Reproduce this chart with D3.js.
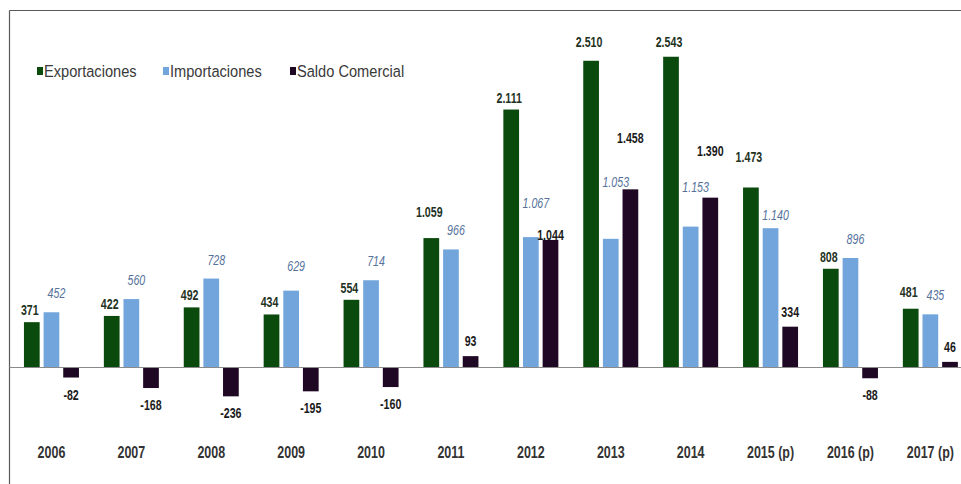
<!DOCTYPE html>
<html lang="es">
<head>
<meta charset="utf-8">
<script src="https://cdn.jsdelivr.net/npm/d3@7"></script>
<style>
  html, body { margin: 0; padding: 0; background: #fff; }
  svg { display: block; }
  text { font-family: "Liberation Sans", Arial, sans-serif; }
</style>
</head>
<body>
<svg id="chart" width="961" height="484"></svg>
<script>
// Balanza comercial, millones de US$
const years = ["2006", "2007", "2008", "2009", "2010", "2011", "2012", "2013", "2014", "2015 (p)", "2016 (p)", "2017 (p)"];
const exportaciones = [371, 422, 492, 434, 554, 1059, 2111, 2510, 2543, 1473, 808, 481];
const importaciones = [452, 560, 728, 629, 714, 966, 1067, 1053, 1153, 1140, 896, 435];
const saldoComercial = [-82, -168, -236, -195, -160, 93, 1044, 1458, 1390, 334, -88, 46];
const seriesNames = ["Exportaciones", "Importaciones", "Saldo Comercial"];

const colors = { "Exportaciones": "#0a4a0c", "Importaciones": "#72a5dc", "Saldo Comercial": "#1e0823" };
const labelColors = { "Exportaciones": "#1f331f", "Importaciones": "#55729c", "Saldo Comercial": "#1a1a1a" };

// extra lift (px) for value labels that sit higher than the default gap
const labelLift = {
  "Exportaciones": { "2011": 14, "2013": 7, "2014": 3, "2015 (p)": 18, "2017 (p)": 5 },
  "Importaciones": { "2009": 6, "2012": 15, "2013": 38, "2014": 21, "2015 (p)": -6 },
  "Saldo Comercial": { "2012": -10, "2013": 36, "2014": 32 }
};

const seriesValues = [exportaciones, importaciones, saldoComercial];
const rows = years.map((yr, i) => ({
  year: yr,
  values: seriesNames.map((s, k) => ({ series: s, year: yr, value: seriesValues[k][i] }))
}));

const fmt = d3.formatLocale({ decimal: ",", thousands: ".", grouping: [3], currency: ["", ""], minus: "-" }).format(",d");

const svg = d3.select("#chart");
const W = 961, H = 484;
const NARROW = 0.76; // horizontal squeeze for the narrow type face

const x0 = d3.scaleBand().domain(years).range([11.5, 970.3]).paddingInner(0).paddingOuter(0);
const x1 = d3.scaleBand().domain(seriesNames).range([0, 55]).paddingInner(0.2);
const y = d3.scaleLinear().domain([-250, 2750]).range([398.05, 31.45]);

const groupOffset = (x0.bandwidth() - 55) / 2;

// frame
svg.append("line").attr("x1", 9.5).attr("x2", W).attr("y1", 10.5).attr("y2", 10.5)
  .attr("stroke", "#5a5a5a").attr("stroke-width", 1.2);
svg.append("line").attr("x1", 9.5).attr("x2", 9.5).attr("y1", 10.5).attr("y2", H)
  .attr("stroke", "#5a5a5a").attr("stroke-width", 1.2);

// bars
const groups = svg.append("g").selectAll("g").data(rows).join("g")
  .attr("transform", d => `translate(${x0(d.year) + groupOffset},0)`);

groups.selectAll("rect").data(d => d.values).join("rect")
  .attr("x", d => x1(d.series))
  .attr("width", x1.bandwidth())
  .attr("y", d => y(Math.max(0, d.value)))
  .attr("height", d => Math.abs(y(d.value) - y(0)))
  .attr("fill", d => colors[d.series]);

// zero line
svg.append("line").attr("x1", 9.5).attr("x2", W).attr("y1", y(0)).attr("y2", y(0))
  .attr("stroke", "#8a8a8a").attr("stroke-width", 1);

// value labels
const baseGap = { "Exportaciones": 7, "Importaciones": 14, "Saldo Comercial": 10 };
const baseDx = { "Exportaciones": -2, "Importaciones": 5, "Saldo Comercial": 0 };

groups.selectAll("text.val").data(d => d.values).join("text")
  .attr("class", "val")
  .attr("transform", d => {
    const lx = x1(d.series) + x1.bandwidth() / 2 + baseDx[d.series];
    let ly;
    if (d.value < 0) ly = y(d.value) + 22;
    else {
      const lift = (labelLift[d.series] && labelLift[d.series][d.year]) || 0;
      ly = y(d.value) - baseGap[d.series] - lift;
    }
    return `translate(${lx},${ly}) scale(${NARROW},1)`;
  })
  .attr("text-anchor", "middle")
  .attr("font-size", 14)
  .attr("font-weight", d => d.series === "Importaciones" ? "normal" : "bold")
  .attr("font-style", d => d.series === "Importaciones" ? "italic" : "normal")
  .attr("fill", d => labelColors[d.series])
  .text(d => fmt(d.value));

// category axis
const xAxis = d3.axisBottom(x0).tickSize(0).tickPadding(0);
const axisG = svg.append("g").attr("transform", "translate(0,447)").call(xAxis);
axisG.select(".domain").remove();
axisG.selectAll("text")
  .attr("font-size", 16).attr("font-weight", "bold").attr("fill", "#333")
  .attr("font-family", null)
  .attr("transform", "scale(0.78,1)");

// legend
const legend = svg.append("g").attr("transform", "translate(37,77)");
const legendX = [0, 126, 253];
seriesNames.forEach((s, i) => {
  const g = legend.append("g").attr("transform", `translate(${legendX[i]},0)`);
  g.append("rect").attr("x", 0).attr("y", -10).attr("width", 6).attr("height", 8).attr("fill", colors[s]);
  g.append("text").attr("transform", "translate(7,0) scale(0.86,1)")
    .attr("font-size", 17).attr("fill", "#3a3a3a").text(s);
});
</script>
</body>
</html>
